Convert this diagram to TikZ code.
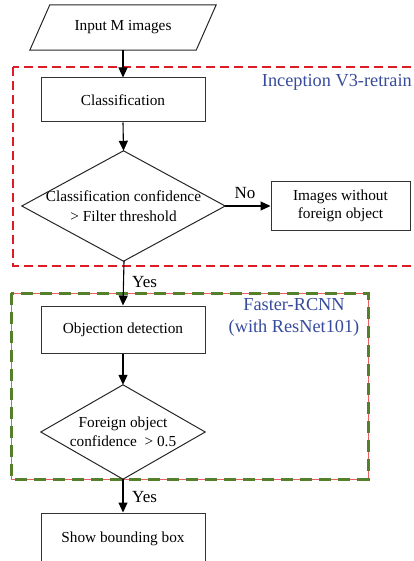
\documentclass[tikz,border=0pt]{standalone}
\usepackage{fontspec}
\setmainfont{Liberation Serif}
\usetikzlibrary{arrows.meta}
\definecolor{redline}{RGB}{222,28,38}
\definecolor{greenline}{RGB}{84,128,44}
\definecolor{bluetext}{RGB}{55,75,155}
\tikzset{
  box/.style={draw=black!80, line width=1pt, inner sep=0pt, align=center,
    font=\fontsize{15.3}{19}\selectfont},
  plain/.style={inner sep=0pt, align=center, font=\fontsize{15.3}{19}\selectfont},
  outline/.style={draw=black!85, line width=1pt},
  arr/.style={-{Triangle[length=10pt,width=9pt]}, line width=1.1pt},
  lbl/.style={font=\fontsize{17}{20}\selectfont, inner sep=0pt},
  grp/.style={font=\fontsize{18.3}{22}\selectfont, text=bluetext, inner sep=0pt, align=center},
  reddash/.style={draw=redline, line width=2.8pt, dash pattern=on 9pt off 5pt},
  greendash/.style={draw=greenline, line width=3pt, dash pattern=on 12pt off 7pt}
}
\begin{document}
\begin{tikzpicture}[x=1pt,y=-1pt]
\useasboundingbox (0,0) rectangle (413,561);
\clip (0,0) rectangle (413,561);

% group frames
\draw[reddash] (13,67) rectangle (440,266);
\draw[draw=redline!70, line width=0.5pt] (11,293) rectangle (368,479);
\draw[greendash] (11,293) rectangle (368,479);

% group labels
\node[grp, anchor=east] (lab1) at (412,82) {Inception V3-retrain};
\node[grp] (lab2) at (294,317) {Faster-RCNN\\(with ResNet101)};

% input parallelogram
\node[plain, minimum width=186pt, minimum height=45pt] (in) at (123,27.5) {\raisebox{-2pt}{Input M images}};
\draw[outline] ([xshift=20pt]in.north west) -- (in.north east)
  -- ([xshift=-20pt]in.south east) -- (in.south west) -- cycle;

% classification
\node[box, minimum width=164pt, minimum height=44pt] (cls) at (123,100) {Classification};

% decision 1
\node[plain, minimum width=203pt, minimum height=110pt] (d1) at (123.5,206)
  {Classification confidence\\[1pt]{>} Filter threshold};
\draw[outline] (d1.north) -- (d1.east) -- (d1.south) -- (d1.west) -- cycle;

% images without foreign object
\node[box, minimum width=139pt, minimum height=48pt, font=\fontsize{15.3}{18}\selectfont] (img) at (340.5,206)
  {Images without\\foreign object};

% objection detection
\node[box, minimum width=164pt, minimum height=47pt] (obj) at (123,329.5) {\raisebox{-1pt}{Objection detection}};

% decision 2
\node[plain, minimum width=164pt, minimum height=94pt] (d2) at (123,432)
  {Foreign object\\confidence~~{>} 0.5};
\draw[outline] (d2.north) -- (d2.east) -- (d2.south) -- (d2.west) -- cycle;

% show bounding box
\node[box, minimum width=164pt, minimum height=52pt] (show) at (123,539) {Show bounding box};

% connectors
\draw[arr] (in.south) -- (cls.north);
\draw[arr] (cls.south) -- (d1.north);
\draw[arr] (d1.east) -- (img.west);
\draw[arr] ([xshift=0.5pt]d1.south) -- (obj.north);
\draw[arr] (obj.south) -- (d2.north);
\draw[arr] (d2.south) -- (show.north);

% connector labels
\node[lbl] (no) at (245,193) {No};
\node[lbl, anchor=west] (yes1) at (132,282) {Yes};
\node[lbl, anchor=west] (yes2) at (132,497) {Yes};
\end{tikzpicture}
\end{document}
